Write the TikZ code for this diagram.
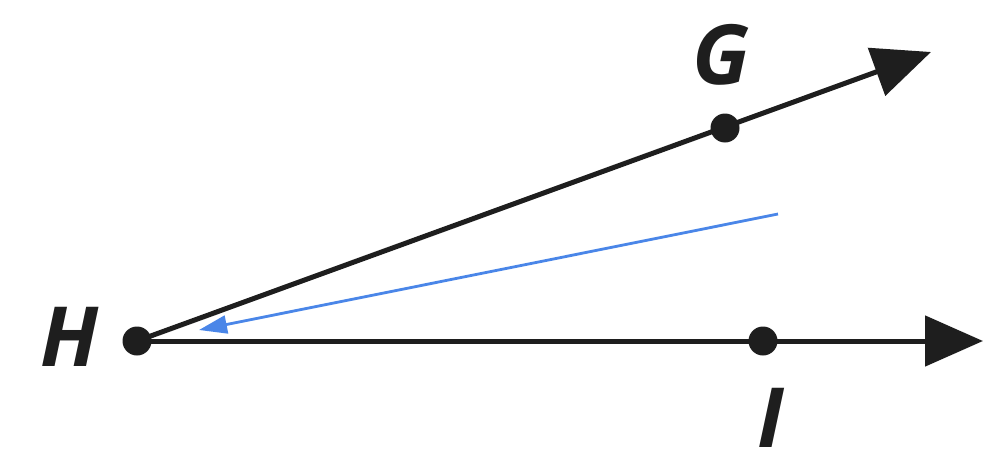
\documentclass[tikz,border=0pt]{standalone}
\usepackage{fontspec}
\setmainfont{Open Sans}
\usetikzlibrary{arrows.meta}
\definecolor{rayblue}{HTML}{4A86E8}
\definecolor{ink}{HTML}{1E1E1E}
\tikzset{
  ray/.style={draw=ink, line width=5pt, -{Triangle[length=58pt,width=50pt]}},
  dot/.style={circle, fill=ink, inner sep=0pt, minimum size=29pt},
  lab/.style={font=\fontsize{83}{90}\selectfont\bfseries\itshape, text=ink, inner sep=0pt, anchor=base},
  bluearrow/.style={draw=rayblue, line width=2.8pt, -{Triangle[length=28pt,width=18pt]}}
}
\begin{document}
\begin{tikzpicture}[x=1pt,y=-1pt]
\useasboundingbox (0,0) rectangle (1005,474);
\coordinate (Hc) at (137,341);
\coordinate (Gc) at (725,128);
\coordinate (Ic) at (763,341);
\coordinate (tipG) at (931,52);
\coordinate (tipI) at (983,341);
\coordinate (bs) at (778,214);
\coordinate (be) at (199,330);
\draw[ray] (Hc) -- (tipG);
\draw[ray] (Hc) -- (tipI);
\draw[bluearrow] (bs) -- (be);
\node[dot] (H) at (Hc) {};
\node[dot] (G) at (Gc) {};
\node[dot] (I) at (Ic) {};
\node[lab] (lH) at (70,366) {H};
\node[lab] (lG) at (721,84) {G};
\node[lab] (lI) at (771,447) {I};
\end{tikzpicture}
\end{document}
